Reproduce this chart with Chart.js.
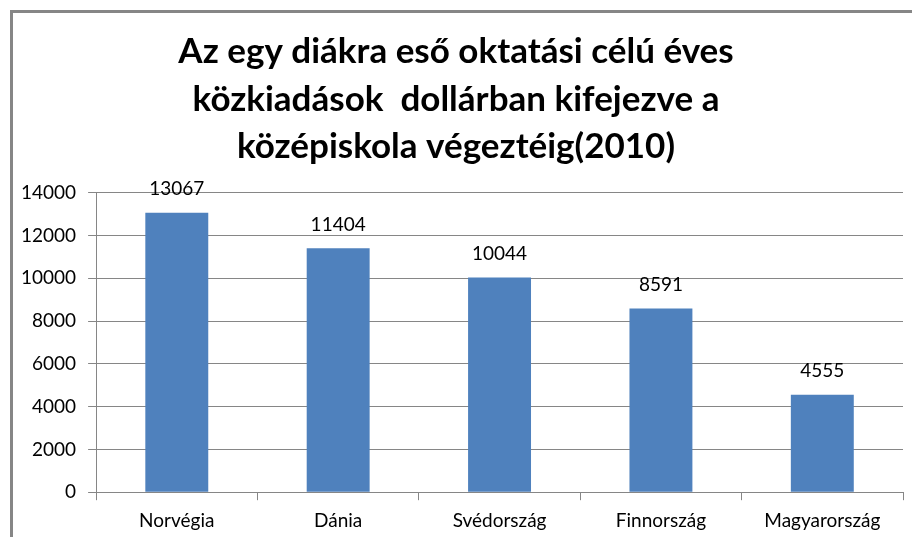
<!DOCTYPE html>
<html>
<head>
<meta charset="utf-8">
<script src="https://cdn.jsdelivr.net/npm/chart.js@4.4.0/dist/chart.umd.min.js"></script>
<style>
  body { margin: 0; background: #fff; }
  #wrap { position: relative; width: 912px; height: 537px; overflow: hidden; }
  #frame { position: absolute; left: 10px; top: 10px; width: 920px; height: 560px;
           border: 3px solid #868686; box-sizing: border-box; }
  #myChart { position: absolute; left: 0; top: 0; }
</style>
</head>
<body>
<div id="wrap">
  <div id="frame"></div>
  <canvas id="myChart" width="912" height="541"></canvas>
</div>
<script>
const countries = ["Norvégia", "Dánia", "Svédország", "Finnország", "Magyarország"];
const spending = [13067, 11404, 10044, 8591, 4555];
const titleLines = [
  "Az egy diákra eső oktatási célú éves",
  "közkiadások  dollárban kifejezve a",
  "középiskola végeztéig(2010)"
];

// values above the bars
const barLabels = {
  id: "barLabels",
  afterDatasetsDraw(chart) {
    const ctx = chart.ctx;
    const meta = chart.getDatasetMeta(0);
    ctx.save();
    ctx.font = "19px Lato, 'Open Sans', sans-serif";
    ctx.fillStyle = "#000";
    ctx.textAlign = "center";
    ctx.textBaseline = "bottom";
    meta.data.forEach((bar, i) => {
      ctx.fillText(chart.data.datasets[0].data[i], bar.x, bar.y - 14);
    });
    ctx.restore();
  }
};

const myChartRef = document.getElementById("myChart").getContext("2d");
new Chart(myChartRef, {
  type: "bar",
  data: {
    labels: countries,
    datasets: [{
      data: spending,
      backgroundColor: "#4F81BD",
      borderWidth: 0,
      barPercentage: 0.39,
      categoryPercentage: 1
    }]
  },
  options: {
    responsive: false,
    animation: false,
    layout: { padding: { left: 9, right: 9, top: 12, bottom: 0 } },
    plugins: {
      legend: { display: false },
      tooltip: { enabled: false },
      title: {
        display: true,
        text: titleLines,
        color: "#000",
        font: { family: "Lato, 'Open Sans', sans-serif", size: 35, weight: "bold", lineHeight: 1.36 },
        padding: { top: 16, bottom: 22 }
      }
    },
    scales: {
      y: {
        min: 0,
        max: 14000,
        ticks: {
          stepSize: 2000, color: "#000", padding: 12,
          font: { family: "Lato, 'Open Sans', sans-serif", size: 19 },
          callback: (v) => String(v)
        },
        grid: { color: "#868686", tickLength: 8 },
        border: { color: "#868686" }
      },
      x: {
        ticks: { color: "#000", padding: 9, font: { family: "Lato, 'Open Sans', sans-serif", size: 19 } },
        grid: { drawOnChartArea: false, color: "#868686", tickLength: 8, offset: true },
        border: { color: "#868686" }
      }
    }
  },
  plugins: [barLabels]
});
</script>
</body>
</html>
